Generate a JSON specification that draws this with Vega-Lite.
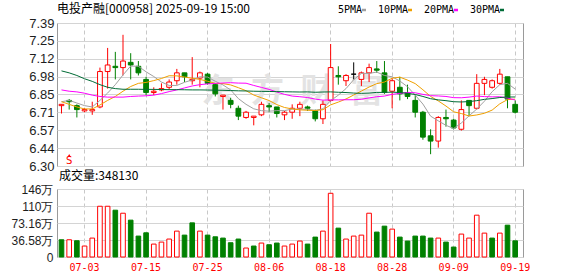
{
  "$schema": "https://vega.github.io/schema/vega-lite/v6.json",
  "background": "white",
  "padding": {"left": 0, "top": 2, "right": 0, "bottom": 0},
  "bounds": "flush",
  "spacing": 23,
  "resolve": {"scale": {"x": "independent", "y": "independent", "color": "independent"}},
  "config": {
    "view": {"stroke": "#9a9a9a", "strokeWidth": 1},
    "axis": {"labelOverlap": false, "ticks": false, "domain": false, "gridColor": "#d4d4d4", "gridWidth": 1},
    "title": {"fontWeight": "normal"}
  },
  "datasets": {
    "k": [
      {"d":"06-30","open":6.76,"high":6.77,"low":6.70,"close":6.77,"vol":371000,"5PMA":6.79,"10PMA":6.79,"20PMA":6.88,"30PMA":7.025},
      {"d":"07-01","open":6.80,"high":6.81,"low":6.73,"close":6.79,"vol":371000,"5PMA":6.80,"10PMA":6.77,"20PMA":6.87,"30PMA":7.01},
      {"d":"07-02","open":6.76,"high":6.77,"low":6.67,"close":6.73,"vol":350000,"5PMA":6.78,"10PMA":6.75,"20PMA":6.865,"30PMA":6.99},
      {"d":"07-03","open":6.72,"high":6.74,"low":6.71,"close":6.73,"vol":236000,"5PMA":6.76,"10PMA":6.735,"20PMA":6.855,"30PMA":6.965},
      {"d":"07-04","open":6.72,"high":6.79,"low":6.69,"close":6.73,"vol":407000,"5PMA":6.75,"10PMA":6.735,"20PMA":6.84,"30PMA":6.945},
      {"d":"07-07","open":6.75,"high":7.05,"low":6.74,"close":7.02,"vol":1092000,"5PMA":6.80,"10PMA":6.765,"20PMA":6.83,"30PMA":6.92},
      {"d":"07-08","open":7.02,"high":7.20,"low":6.89,"close":7.07,"vol":1092000,"5PMA":6.856,"10PMA":6.80,"20PMA":6.825,"30PMA":6.90},
      {"d":"07-09","open":7.06,"high":7.17,"low":6.96,"close":7.05,"vol":1007000,"5PMA":6.92,"10PMA":6.83,"20PMA":6.825,"30PMA":6.89},
      {"d":"07-10","open":7.05,"high":7.30,"low":6.99,"close":7.10,"vol":942000,"5PMA":6.994,"10PMA":6.87,"20PMA":6.825,"30PMA":6.885},
      {"d":"07-11","open":7.09,"high":7.16,"low":6.96,"close":7.07,"vol":793000,"5PMA":7.062,"10PMA":6.906,"20PMA":6.83,"30PMA":6.885},
      {"d":"07-14","open":7.06,"high":7.10,"low":6.99,"close":7.01,"vol":450000,"5PMA":7.06,"10PMA":6.93,"20PMA":6.833,"30PMA":6.885},
      {"d":"07-15","open":6.96,"high":6.98,"low":6.84,"close":6.86,"vol":521000,"5PMA":7.018,"10PMA":6.937,"20PMA":6.835,"30PMA":6.884},
      {"d":"07-16","open":6.86,"high":6.90,"low":6.84,"close":6.87,"vol":278000,"5PMA":6.982,"10PMA":6.951,"20PMA":6.84,"30PMA":6.884},
      {"d":"07-17","open":6.88,"high":6.93,"low":6.87,"close":6.89,"vol":321000,"5PMA":6.94,"10PMA":6.967,"20PMA":6.852,"30PMA":6.883},
      {"d":"07-18","open":6.90,"high":6.96,"low":6.88,"close":6.94,"vol":386000,"5PMA":6.914,"10PMA":6.988,"20PMA":6.867,"30PMA":6.882},
      {"d":"07-21","open":6.95,"high":7.04,"low":6.92,"close":7.01,"vol":557000,"5PMA":6.914,"10PMA":6.987,"20PMA":6.88,"30PMA":6.882},
      {"d":"07-22","open":7.01,"high":7.01,"low":6.94,"close":6.98,"vol":471000,"5PMA":6.938,"10PMA":6.978,"20PMA":6.895,"30PMA":6.881},
      {"d":"07-23","open":6.95,"high":7.13,"low":6.92,"close":6.96,"vol":735000,"5PMA":6.956,"10PMA":6.969,"20PMA":6.91,"30PMA":6.88},
      {"d":"07-24","open":6.97,"high":7.02,"low":6.90,"close":7.01,"vol":557000,"5PMA":6.98,"10PMA":6.96,"20PMA":6.92,"30PMA":6.88},
      {"d":"07-25","open":7.00,"high":7.01,"low":6.92,"close":6.93,"vol":471000,"5PMA":6.978,"10PMA":6.946,"20PMA":6.926,"30PMA":6.879},
      {"d":"07-28","open":6.92,"high":6.93,"low":6.83,"close":6.85,"vol":435000,"5PMA":6.946,"10PMA":6.93,"20PMA":6.93,"30PMA":6.878},
      {"d":"07-29","open":6.83,"high":6.84,"low":6.73,"close":6.84,"vol":407000,"5PMA":6.918,"10PMA":6.928,"20PMA":6.933,"30PMA":6.877},
      {"d":"07-30","open":6.80,"high":6.82,"low":6.74,"close":6.77,"vol":307000,"5PMA":6.88,"10PMA":6.918,"20PMA":6.935,"30PMA":6.875},
      {"d":"07-31","open":6.74,"high":6.76,"low":6.65,"close":6.68,"vol":386000,"5PMA":6.814,"10PMA":6.897,"20PMA":6.932,"30PMA":6.873},
      {"d":"08-01","open":6.67,"high":6.72,"low":6.66,"close":6.71,"vol":193000,"5PMA":6.77,"10PMA":6.874,"20PMA":6.931,"30PMA":6.872},
      {"d":"08-04","open":6.67,"high":6.68,"low":6.61,"close":6.68,"vol":236000,"5PMA":6.736,"10PMA":6.841,"20PMA":6.914,"30PMA":6.87},
      {"d":"08-05","open":6.69,"high":6.79,"low":6.68,"close":6.77,"vol":300000,"5PMA":6.722,"10PMA":6.82,"20PMA":6.899,"30PMA":6.869},
      {"d":"08-06","open":6.76,"high":6.78,"low":6.71,"close":6.75,"vol":264000,"5PMA":6.718,"10PMA":6.799,"20PMA":6.884,"30PMA":6.868},
      {"d":"08-07","open":6.75,"high":6.75,"low":6.67,"close":6.70,"vol":300000,"5PMA":6.722,"10PMA":6.768,"20PMA":6.864,"30PMA":6.867},
      {"d":"08-08","open":6.69,"high":6.72,"low":6.65,"close":6.71,"vol":236000,"5PMA":6.722,"10PMA":6.746,"20PMA":6.846,"30PMA":6.866},
      {"d":"08-11","open":6.71,"high":6.77,"low":6.66,"close":6.74,"vol":278000,"5PMA":6.734,"10PMA":6.735,"20PMA":6.833,"30PMA":6.865},
      {"d":"08-12","open":6.74,"high":6.79,"low":6.68,"close":6.77,"vol":343000,"5PMA":6.734,"10PMA":6.728,"20PMA":6.828,"30PMA":6.864},
      {"d":"08-13","open":6.75,"high":6.76,"low":6.72,"close":6.74,"vol":278000,"5PMA":6.732,"10PMA":6.725,"20PMA":6.822,"30PMA":6.865},
      {"d":"08-14","open":6.72,"high":6.73,"low":6.64,"close":6.66,"vol":428000,"5PMA":6.724,"10PMA":6.723,"20PMA":6.81,"30PMA":6.862},
      {"d":"08-15","open":6.66,"high":6.80,"low":6.62,"close":6.77,"vol":557000,"5PMA":6.736,"10PMA":6.729,"20PMA":6.802,"30PMA":6.864},
      {"d":"08-18","open":6.80,"high":7.23,"low":6.79,"close":7.05,"vol":1371000,"5PMA":6.798,"10PMA":6.766,"20PMA":6.804,"30PMA":6.865},
      {"d":"08-19","open":6.99,"high":7.06,"low":6.92,"close":6.98,"vol":621000,"5PMA":6.84,"10PMA":6.787,"20PMA":6.804,"30PMA":6.862},
      {"d":"08-20","open":6.95,"high":7.00,"low":6.91,"close":6.99,"vol":386000,"5PMA":6.89,"10PMA":6.811,"20PMA":6.805,"30PMA":6.86},
      {"d":"08-21","open":7.00,"high":7.09,"low":6.96,"close":7.00,"vol":450000,"5PMA":6.958,"10PMA":6.841,"20PMA":6.805,"30PMA":6.856},
      {"d":"08-22","open":6.96,"high":7.02,"low":6.91,"close":7.01,"vol":471000,"5PMA":7.006,"10PMA":6.871,"20PMA":6.809,"30PMA":6.854},
      {"d":"08-25","open":7.01,"high":7.08,"low":6.94,"close":7.05,"vol":942000,"5PMA":7.006,"10PMA":6.902,"20PMA":6.819,"30PMA":6.856},
      {"d":"08-26","open":7.04,"high":7.10,"low":7.01,"close":7.03,"vol":536000,"5PMA":7.016,"10PMA":6.928,"20PMA":6.828,"30PMA":6.861},
      {"d":"08-27","open":7.01,"high":7.10,"low":6.85,"close":6.86,"vol":664000,"5PMA":6.99,"10PMA":6.94,"20PMA":6.833,"30PMA":6.861},
      {"d":"08-28","open":6.87,"high":6.97,"low":6.74,"close":6.95,"vol":600000,"5PMA":6.98,"10PMA":6.969,"20PMA":6.846,"30PMA":6.863},
      {"d":"08-29","open":6.90,"high":6.98,"low":6.80,"close":6.85,"vol":428000,"5PMA":6.948,"10PMA":6.977,"20PMA":6.853,"30PMA":6.86},
      {"d":"09-01","open":6.86,"high":6.92,"low":6.81,"close":6.83,"vol":343000,"5PMA":6.904,"10PMA":6.955,"20PMA":6.861,"30PMA":6.854},
      {"d":"09-02","open":6.80,"high":6.84,"low":6.67,"close":6.71,"vol":450000,"5PMA":6.84,"10PMA":6.928,"20PMA":6.858,"30PMA":6.845},
      {"d":"09-03","open":6.71,"high":6.72,"low":6.50,"close":6.52,"vol":450000,"5PMA":6.772,"10PMA":6.881,"20PMA":6.846,"30PMA":6.83},
      {"d":"09-04","open":6.53,"high":6.58,"low":6.39,"close":6.49,"vol":407000,"5PMA":6.68,"10PMA":6.83,"20PMA":6.836,"30PMA":6.813},
      {"d":"09-05","open":6.49,"high":6.68,"low":6.44,"close":6.67,"vol":407000,"5PMA":6.644,"10PMA":6.796,"20PMA":6.834,"30PMA":6.804},
      {"d":"09-08","open":6.67,"high":6.73,"low":6.60,"close":6.66,"vol":321000,"5PMA":6.61,"10PMA":6.757,"20PMA":6.83,"30PMA":6.798},
      {"d":"09-09","open":6.65,"high":6.66,"low":6.58,"close":6.59,"vol":214000,"5PMA":6.586,"10PMA":6.713,"20PMA":6.821,"30PMA":6.79},
      {"d":"09-10","open":6.58,"high":6.80,"low":6.57,"close":6.73,"vol":493000,"5PMA":6.628,"10PMA":6.70,"20PMA":6.82,"30PMA":6.788},
      {"d":"09-11","open":6.80,"high":6.80,"low":6.68,"close":6.76,"vol":407000,"5PMA":6.682,"10PMA":6.681,"20PMA":6.825,"30PMA":6.791},
      {"d":"09-12","open":6.74,"high":7.00,"low":6.73,"close":6.93,"vol":900000,"5PMA":6.734,"10PMA":6.689,"20PMA":6.833,"30PMA":6.798},
      {"d":"09-15","open":6.93,"high":6.98,"low":6.84,"close":6.96,"vol":514000,"5PMA":6.794,"10PMA":6.702,"20PMA":6.829,"30PMA":6.808},
      {"d":"09-16","open":6.90,"high":6.96,"low":6.89,"close":6.95,"vol":407000,"5PMA":6.866,"10PMA":6.726,"20PMA":6.827,"30PMA":6.814},
      {"d":"09-17","open":6.93,"high":7.04,"low":6.92,"close":7.00,"vol":514000,"5PMA":6.92,"10PMA":6.774,"20PMA":6.828,"30PMA":6.822},
      {"d":"09-18","open":6.98,"high":6.98,"low":6.74,"close":6.81,"vol":685000,"5PMA":6.93,"10PMA":6.806,"20PMA":6.818,"30PMA":6.826},
      {"d":"09-19","open":6.77,"high":6.80,"low":6.70,"close":6.71,"vol":348130,"5PMA":6.886,"10PMA":6.81,"20PMA":6.803,"30PMA":6.826}
    ],
    "sig": [{"d": "07-01", "t": "S"}],
    "wm": [{"d": "08-11", "t": "东\u2002方\u2002财\u2002富"}]
  },
  "vconcat": [
    {
      "width": 466,
      "height": 143,
      "title": {"text": "电投产融[000958] 2025-09-19 15:00", "anchor": "start", "frame": "group", "font": "Noto Sans CJK SC", "fontSize": 12, "fontWeight": "normal", "color": "#000000", "offset": -11},
      "data": {"name": "k"},
      "encoding": {
        "x": {
          "field": "d", "type": "ordinal",
          "scale": {"type": "band", "paddingInner": 0, "paddingOuter": 0.3, "align": 0.14},
          "axis": {"title": null, "labels": false, "ticks": false, "domain": false, "grid": true, "gridDash": [4, 3], "gridColor": "#c8c8c8", "bandPosition": 0.5,
                   "values": ["07-03", "07-15", "07-25", "08-06", "08-18", "08-28", "09-09", "09-19"]}
        }
      },
      "layer": [
        {
          "data": {"name": "wm"},
          "mark": {"type": "text", "font": "Noto Sans CJK SC", "fontSize": 33, "fontWeight": "bold", "color": "#e3e3e3", "baseline": "middle", "align": "center"},
          "encoding": {
            "text": {"field": "t"},
            "y": {"datum": 6.865, "type": "quantitative", "scale": {"domain": [6.3, 7.39], "nice": false, "zero": false},
                  "axis": {"title": null, "grid": true, "values": [6.3, 6.43626, 6.57249, 6.70876, 6.84501, 6.98125, 7.11751, 7.25375, 7.39], "format": ".2f",
                           "labelFont": "Liberation Sans", "labelFontSize": 13, "labelColor": "#1e1e1e", "labelPadding": 3, "minExtent": 56, "maxExtent": 56}}
          }
        },
        {
          "mark": {"type": "rule", "strokeWidth": 1},
          "encoding": {
            "y": {"field": "low", "type": "quantitative", "scale": {"domain": [6.3, 7.39], "nice": false, "zero": false},
                  "axis": {"title": null, "grid": true, "values": [6.3, 6.43626, 6.57249, 6.70876, 6.84501, 6.98125, 7.11751, 7.25375, 7.39], "format": ".2f",
                           "labelFont": "Liberation Sans", "labelFontSize": 13, "labelColor": "#1e1e1e", "labelPadding": 3, "minExtent": 56, "maxExtent": 56}},
            "y2": {"field": "high"},
            "stroke": {"condition": [{"test": "datum.close > datum.open", "value": "#ff0000"}, {"test": "datum.close < datum.open", "value": "#008000"}], "value": "#000000"}
          }
        },
        {
          "mark": {"type": "bar", "width": {"band": 0.62}, "strokeWidth": 1},
          "encoding": {
            "y": {"field": "open", "type": "quantitative", "scale": {"domain": [6.3, 7.39], "nice": false, "zero": false},
                  "axis": {"title": null, "grid": true, "values": [6.3, 6.43626, 6.57249, 6.70876, 6.84501, 6.98125, 7.11751, 7.25375, 7.39], "format": ".2f",
                           "labelFont": "Liberation Sans", "labelFontSize": 13, "labelColor": "#1e1e1e", "labelPadding": 3, "minExtent": 56, "maxExtent": 56}},
            "y2": {"field": "close"},
            "fill": {"condition": [{"test": "datum.close > datum.open", "value": "#ffffff"}, {"test": "datum.close < datum.open", "value": "#008000"}], "value": "#000000"},
            "stroke": {"condition": [{"test": "datum.close > datum.open", "value": "#ff0000"}, {"test": "datum.close < datum.open", "value": "#008000"}], "value": "#000000"}
          }
        },
        {
          "transform": [{"fold": ["5PMA", "10PMA", "20PMA", "30PMA"], "as": ["ma", "v"]}],
          "mark": {"type": "line", "strokeWidth": 1},
          "encoding": {
            "y": {"field": "v", "type": "quantitative", "scale": {"domain": [6.3, 7.39], "nice": false, "zero": false},
                  "axis": {"title": null, "grid": true, "values": [6.3, 6.43626, 6.57249, 6.70876, 6.84501, 6.98125, 7.11751, 7.25375, 7.39], "format": ".2f",
                           "labelFont": "Liberation Sans", "labelFontSize": 13, "labelColor": "#1e1e1e", "labelPadding": 3, "minExtent": 56, "maxExtent": 56}},
            "color": {
              "field": "ma", "type": "nominal",
              "scale": {"domain": ["5PMA", "10PMA", "20PMA", "30PMA"], "range": ["#a0a0a0", "#f0a000", "#ff00ff", "#006b35"]},
              "legend": {"orient": "none", "legendX": 302, "legendY": -18, "direction": "horizontal", "title": null,
                         "symbolType": "M-1,0H1", "symbolSize": 16, "symbolStrokeWidth": 2.5,
                         "labelAlign": "right", "labelOffset": -7, "labelFont": "DejaVu Sans Mono", "labelFontSize": 10, "labelColor": "#000000",
                         "columnPadding": 6, "padding": 0}
            }
          }
        },
        {
          "data": {"name": "sig"},
          "mark": {"type": "text", "font": "DejaVu Sans", "fontSize": 10, "color": "#ff0000", "baseline": "middle", "align": "center"},
          "encoding": {
            "text": {"field": "t"},
            "y": {"datum": 6.337, "type": "quantitative", "scale": {"domain": [6.3, 7.39], "nice": false, "zero": false},
                  "axis": {"title": null, "grid": true, "values": [6.3, 6.43626, 6.57249, 6.70876, 6.84501, 6.98125, 7.11751, 7.25375, 7.39], "format": ".2f",
                           "labelFont": "Liberation Sans", "labelFontSize": 13, "labelColor": "#1e1e1e", "labelPadding": 3, "minExtent": 56, "maxExtent": 56}}
          }
        },
        {
          "data": {"name": "sig"},
          "mark": {"type": "point", "shape": "triangle-up", "size": 12, "filled": true, "color": "#ff0000", "opacity": 1},
          "encoding": {
            "y": {"datum": 6.38, "type": "quantitative", "scale": {"domain": [6.3, 7.39], "nice": false, "zero": false},
                  "axis": {"title": null, "grid": true, "values": [6.3, 6.43626, 6.57249, 6.70876, 6.84501, 6.98125, 7.11751, 7.25375, 7.39], "format": ".2f",
                           "labelFont": "Liberation Sans", "labelFontSize": 13, "labelColor": "#1e1e1e", "labelPadding": 3, "minExtent": 56, "maxExtent": 56}}
          }
        }
      ]
    },
    {
      "width": 466,
      "height": 68,
      "title": {"text": "成交量:348130", "anchor": "start", "frame": "group", "font": "Noto Sans CJK SC", "fontSize": 12, "fontWeight": "normal", "color": "#000000", "offset": 0, "dx": 2},
      "data": {"name": "k"},
      "transform": [{"window": [{"op": "lag", "field": "close", "as": "pc"}], "sort": [{"field": "d"}]}],
      "mark": {"type": "bar", "width": {"band": 0.6}, "strokeWidth": 1},
      "encoding": {
        "x": {
          "field": "d", "type": "ordinal",
          "scale": {"type": "band", "paddingInner": 0, "paddingOuter": 0.3, "align": 0.14},
          "axis": {"title": null, "ticks": false, "domain": false, "grid": true, "gridDash": [4, 3], "gridColor": "#c8c8c8", "bandPosition": 0.5,
                   "labelColor": "#ff0000", "labelFont": "DejaVu Sans Mono", "labelFontSize": 10, "labelAngle": 0, "labelPadding": 5,
                   "values": ["07-03", "07-15", "07-25", "08-06", "08-18", "08-28", "09-09", "09-19"]}
        },
        "y": {
          "field": "vol", "type": "quantitative", "scale": {"domain": [0, 1463200], "nice": false},
          "axis": {"title": null, "grid": true, "values": [0, 365800, 731600, 1097400, 1463200],
                   "labelExpr": "datum.value == 0 ? '0' : (datum.value >= 1000000 ? format(datum.value / 10000, '.0f') + '万' : format(datum.value / 10000, '.2f') + '万')",
                   "labelFont": "Liberation Sans", "labelFontSize": 12, "labelColor": "#1e1e1e", "labelPadding": 4, "minExtent": 56, "maxExtent": 56}
        },
        "fill": {"condition": {"test": "datum.pc != null && datum.close >= datum.pc", "value": "#ffffff"}, "value": "#008000"},
        "stroke": {"condition": {"test": "datum.pc != null && datum.close >= datum.pc", "value": "#ff0000"}, "value": "#008000"}
      }
    }
  ]
}
